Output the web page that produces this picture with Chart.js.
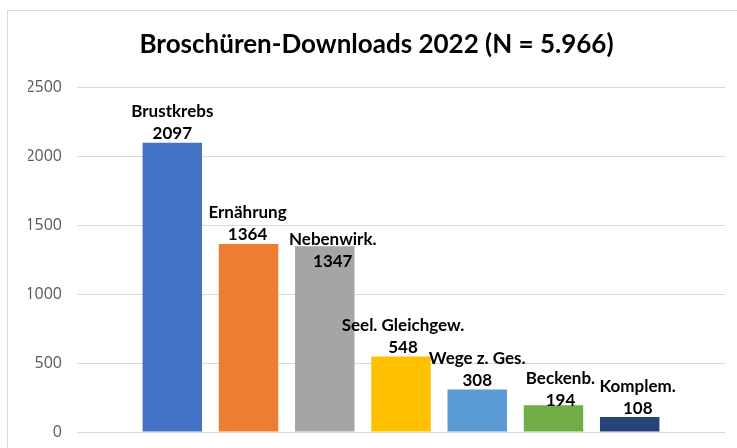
<!DOCTYPE html>
<html>
<head>
<meta charset="utf-8">
<script src="https://cdn.jsdelivr.net/npm/chart.js@4/dist/chart.umd.min.js"></script>
<style>
  html, body { margin: 0; padding: 0; background: #fff; overflow: hidden; }
  #wrap { position: relative; width: 737px; height: 448px; }
  #myChart { display: block; }
  #frame { position: absolute; left: 7px; top: 10px; width: 745px; height: 500px; border: 1px solid #d9d9d9; pointer-events: none; }
</style>
</head>
<body>
<div id="wrap">
  <canvas id="myChart" width="737" height="448"></canvas>
  <div id="frame"></div>
</div>
<script>
const categories = ['Brustkrebs', 'Ernährung', 'Nebenwirk.', 'Seel. Gleichgew.', 'Wege z. Ges.', 'Beckenb.', 'Komplem.'];
const downloads = [2097, 1364, 1347, 548, 308, 194, 108];
const yTicks = [0, 500, 1000, 1500, 2000, 2500];

const barColors = ['#4472C4', '#ED7D31', '#A5A5A5', '#FFC000', '#5B9BD5', '#70AD47', '#264478'];
// small manual nudges of the labels, like in the original
const labelNudge = [[0, 0], [-1, 0], [8, 24], [2, 0], [0, 0], [7, 4], [8, 0]];

const labelPlugin = {
    id: 'barLabels',
    afterDatasetsDraw(chart) {
        const ctx = chart.ctx;
        const meta = chart.getDatasetMeta(0);
        ctx.save();
        ctx.fillStyle = '#000';
        ctx.textAlign = 'center';
        ctx.textBaseline = 'middle';
        ctx.font = 'bold 17px Lato';
        meta.data.forEach((bar, i) => {
            const dx = labelNudge[i][0];
            const dy = labelNudge[i][1];
            ctx.fillText(categories[i], bar.x + dx, bar.y - 31 + dy);
            ctx.fillText(String(downloads[i]), bar.x + dx, bar.y - 9 + dy);
        });
        ctx.restore();
    }
};

window.addEventListener('DOMContentLoaded', () => {

    const points = downloads.map((v, i) => {
        return { x: i, y: v };
    });

    const ctx = document.getElementById('myChart').getContext('2d');
    const myChart = new Chart(ctx, {
        type: 'bar',
        data: {
            datasets: [{
                label: 'Downloads',
                data: points,
                backgroundColor: barColors,
                borderWidth: 0,
                barPercentage: 1,
                categoryPercentage: 0.78
            }]
        },
        options: {
            responsive: false,
            animation: false,
            layout: {
                padding: { left: 28, right: 12, top: 0, bottom: 16 }
            },
            plugins: {
                legend: { display: false },
                tooltip: { enabled: false },
                title: {
                    display: true,
                    text: 'Broschüren-Downloads 2022 (N = 5.966)',
                    color: '#000',
                    font: { family: 'Lato', size: 26, weight: 'bold' },
                    padding: { top: 29, bottom: 27 }
                }
            },
            scales: {
                x: {
                    type: 'linear',
                    display: false,
                    offset: false,
                    min: -1.25,
                    max: categories.length - 1 + 1.25
                },
                y: {
                    min: 0,
                    max: 2500,
                    afterBuildTicks: (scale) => {
                        scale.ticks = yTicks.map(v => ({ value: v }));
                    },
                    afterFit: (scale) => {
                        scale.width = 49;
                    },
                    border: { display: false },
                    grid: { color: '#d9d9d9', drawTicks: true, tickLength: 12, tickColor: 'rgba(0,0,0,0)', lineWidth: 1 },
                    ticks: {
                        color: '#595959',
                        padding: 3,
                        font: { family: 'Open Sans', size: 16 },
                        callback: function(val) {
                            return val;
                        }
                    }
                }
            }
        },
        plugins: [labelPlugin]
    });
});
</script>
</body>
</html>
